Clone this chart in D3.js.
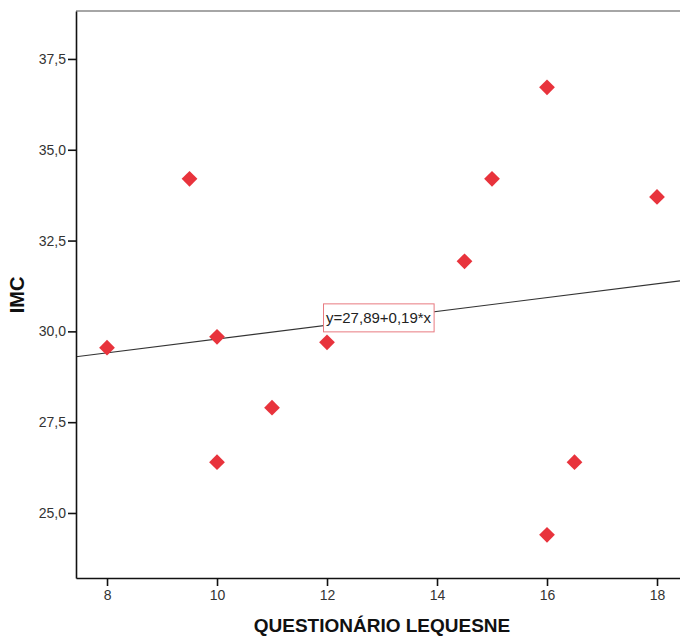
<!DOCTYPE html>
<html>
<head>
<meta charset="utf-8">
<script src="https://cdn.jsdelivr.net/npm/d3@7"></script>
<style>
  body { margin: 0; background: #fff; }
  svg { display: block; font-family: "Liberation Sans", Arial, sans-serif; }
</style>
</head>
<body>
<div id="chart"></div>
<script>
// scatter data: questionário Lequesne vs IMC
const lequesne = [8, 9.5, 10, 10, 11, 12, 14.5, 15, 16, 16, 16.5, 18];
const imc = [29.55, 34.2, 29.85, 26.4, 27.9, 29.7, 31.93, 34.2, 36.72, 24.4, 26.4, 33.7];
const xTicks = [8, 10, 12, 14, 16, 18];
const yTicks = [25, 27.5, 30, 32.5, 35, 37.5];
const fit = { intercept: 27.89, slope: 0.19, label: "y=27,89+0,19*x" };

const W = 680, H = 636;
const margin = { top: 11, right: 0, bottom: 58, left: 76 },
    width = W - margin.left - margin.right,
    height = H - margin.top - margin.bottom;

const svg = d3.select("#chart")
    .append("svg")
        .attr("width", W)
        .attr("height", H);

const g = svg.append("g")
    .attr("transform", `translate(${margin.left},${margin.top})`);

const x = d3.scaleLinear()
    .domain([7.436, 18.418])
    .range([0, width]);

const y = d3.scaleLinear()
    .domain([23.21, 38.82])
    .range([height, 0]);

g.append("clipPath")
    .attr("id", "plotclip")
    .append("rect")
        .attr("width", width)
        .attr("height", height);

// top frame line
g.append("line")
    .attr("x1", 0).attr("x2", width)
    .attr("y1", 0).attr("y2", 0)
    .attr("stroke", "#888")
    .attr("stroke-width", 1.5);

// fit line
const [x0, x1] = x.domain();
g.append("line")
    .attr("clip-path", "url(#plotclip)")
    .attr("x1", x(x0)).attr("y1", y(fit.intercept + fit.slope * x0))
    .attr("x2", x(x1)).attr("y2", y(fit.intercept + fit.slope * x1))
    .attr("stroke", "#333")
    .attr("stroke-width", 1.1);

// points
const diamond = d3.symbol().type(d3.symbolSquare).size(124);
g.selectAll(".pt")
    .data(lequesne.map((v, i) => ({ x: v, y: imc[i] })))
    .join("path")
        .attr("class", "pt")
        .attr("d", diamond)
        .attr("transform", d => `translate(${x(d.x)},${y(d.y)}) rotate(45)`)
        .attr("fill", "#e8333c");

// equation label
const lab = g.append("g")
    .attr("transform", `translate(${x(12) - 4},${y(30) - 28})`);
const labText = lab.append("text")
    .attr("x", 3)
    .attr("y", 20)
    .style("font-size", "15px")
    .style("fill", "#222")
    .text(fit.label);
const bb = labText.node().getBBox();
lab.insert("rect", "text")
    .attr("x", 0.5)
    .attr("y", 0.5)
    .attr("width", bb.width + 5)
    .attr("height", 28)
    .attr("fill", "#fff")
    .attr("stroke", "#e87a80")
    .attr("stroke-width", 1);

const fmt = d => d.toFixed(1).replace(".", ",");

const xAxisGroup = g.append("g")
    .attr("transform", `translate(0,${height})`)
    .call(d3.axisBottom(x).tickValues(xTicks).tickSize(8).tickPadding(4).tickSizeOuter(0));

const yAxisGroup = g.append("g")
    .call(d3.axisLeft(y).tickValues(yTicks).tickFormat(fmt).tickSize(8).tickPadding(2).tickSizeOuter(0));

[xAxisGroup, yAxisGroup].forEach(ax => {
    ax.select(".domain").style("stroke", "#111").style("stroke-width", 1.6);
    ax.selectAll(".tick line").style("stroke", "#111").style("stroke-width", 1.6);
    ax.selectAll(".tick text")
        .style("font-size", "14px")
        .style("font-family", "\"Liberation Sans\", Arial, sans-serif")
        .style("fill", "#333");
});

svg.append("text")
    .attr("x", 382)
    .attr("y", 632)
    .attr("text-anchor", "middle")
    .style("font-size", "19px")
    .style("font-weight", "bold")
    .style("fill", "#111")
    .text("QUESTIONÁRIO LEQUESNE");

svg.append("text")
    .attr("transform", `translate(24,295) rotate(-90)`)
    .attr("text-anchor", "middle")
    .style("font-size", "20px")
    .style("font-weight", "bold")
    .style("fill", "#111")
    .text("IMC");
</script>
</body>
</html>
